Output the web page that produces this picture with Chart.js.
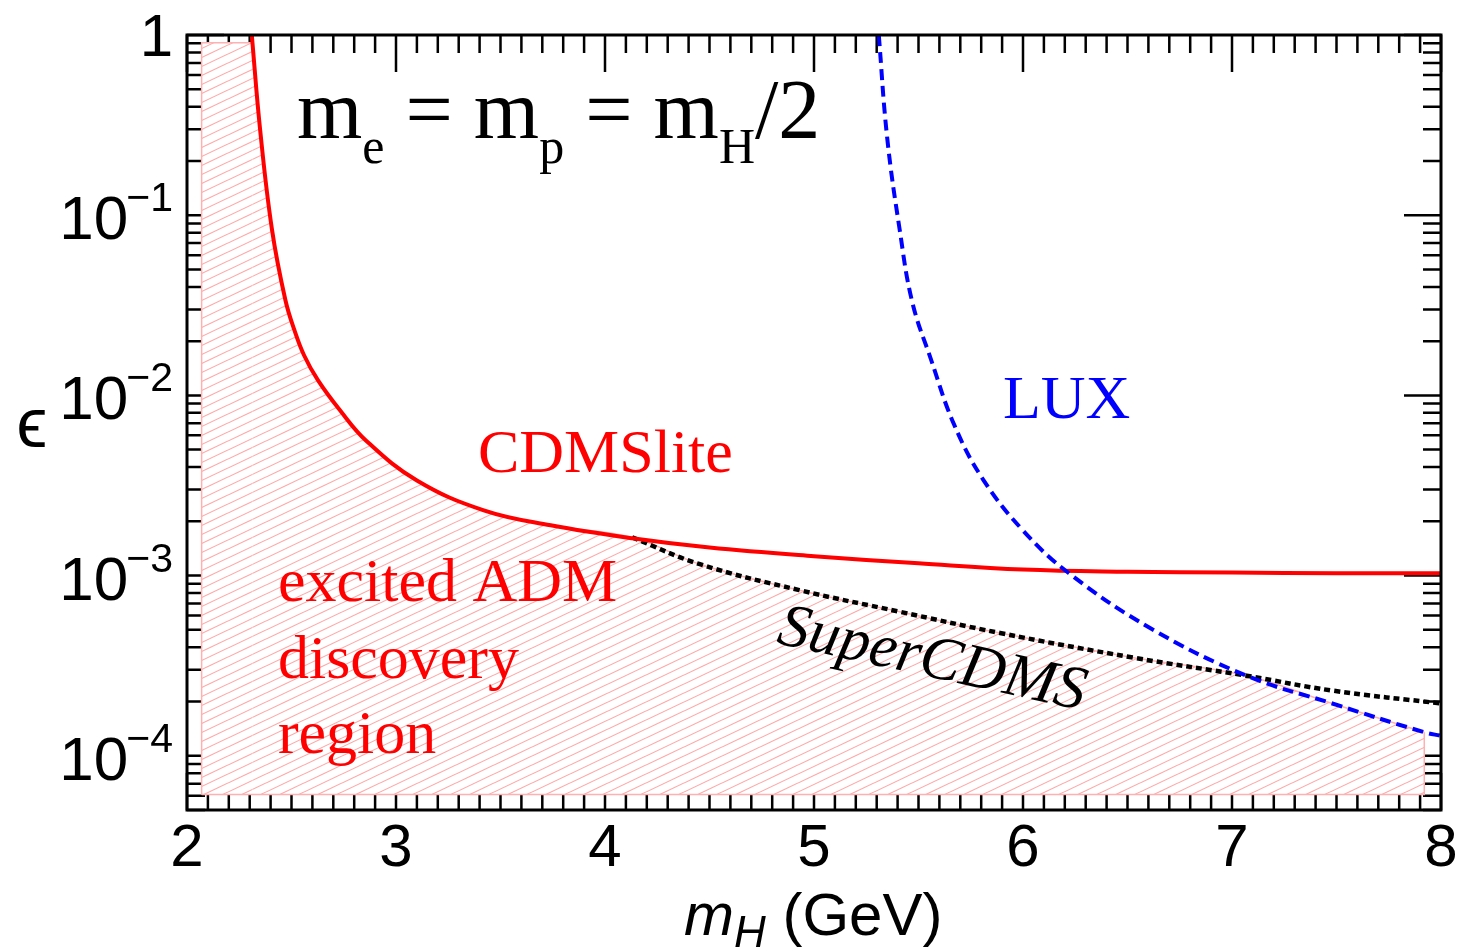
<!DOCTYPE html>
<html>
<head>
<meta charset="utf-8">
<script src="https://cdn.jsdelivr.net/npm/chart.js@4.4.1/dist/chart.umd.min.js"></script>
<style>
  html, body { margin: 0; padding: 0; background: #fff; }
  #wrap { width: 1458px; height: 951px; }
</style>
</head>
<body>
<div id="wrap"><canvas id="plot" width="1458" height="951"></canvas></div>
<script>
// CDMSlite limit
const cdmsMass = [2.31, 2.35, 2.407, 2.471, 2.514, 2.56, 2.627, 2.732, 2.856, 3.10, 3.42, 3.74, 4.13, 4.5, 5.0, 5.5, 6.0, 6.5, 7.0, 7.5, 8.0];
const cdmsEps = [1.0, 0.297, 0.0826, 0.0337, 0.023, 0.0167, 0.0121, 0.00826, 0.00562, 0.00337, 0.0023, 0.0019, 0.00161, 0.00143, 0.00128, 0.00117, 0.00108, 0.00105, 0.00104, 0.00103, 0.00103];
// SuperCDMS projection
const superMass = [4.13, 4.45, 4.93, 5.41, 5.89, 6.53, 7.07, 7.48, 8.0];
const superEps = [0.00163, 0.00116, 0.00083, 0.00063, 0.00048, 0.00035, 0.000278, 0.00023, 0.000195];
// LUX limit
const luxMass = [5.31, 5.35, 5.41, 5.47, 5.56, 5.67, 5.81, 6.0, 6.22, 6.61, 7.07, 7.48, 7.92, 8.0];
const luxEps = [1.0, 0.27, 0.083, 0.033, 0.0158, 0.0069, 0.0034, 0.00178, 0.00103, 0.00051, 0.000278, 0.000195, 0.000135, 0.000129];

// discovery region edges
const regionLeft = 2.07;
const regionRight = 7.92;
const regionTop = 0.906;
const regionBottom = 6.1e-5;
const regionCorner = 2.315;   // where the flat top meets CDMSlite

const xTickLabels = ['2', '3', '4', '5', '6', '7', '8'];
const yTickExps = [0, -1, -2, -3, -4];

const pts = (xs, ys) => xs.map((v, i) => ({ x: v, y: ys[i] }));

// curved upper edge of the hatched region: CDMSlite, then SuperCDMS, then LUX
const regionEdge = [{ x: regionCorner, y: regionTop }]
    .concat(pts(cdmsMass, cdmsEps).filter(p => p.y < regionTop && p.x < superMass[0]))
    .concat(pts(superMass, superEps).filter(p => p.x <= 7.07))
    .concat(pts(luxMass, luxEps).filter(p => p.x > 7.07 && p.x <= regionRight));
// straight pieces of the region outline
const regionLeftPart = [{ x: regionLeft, y: regionBottom }, { x: regionLeft, y: regionTop }, { x: regionCorner, y: regionTop }];
const regionBase = [regionEdge[regionEdge.length - 1], { x: regionRight, y: regionBottom }, { x: regionLeft, y: regionBottom }];

const makeHatch = () => {
    const c = document.createElement('canvas');
    const w = 38, h = 18;
    c.width = w;
    c.height = h;
    const g = c.getContext('2d');
    g.fillStyle = '#ffffff';
    g.fillRect(0, 0, w, h);
    g.strokeStyle = '#ffa8a8';
    g.lineWidth = 1.1;
    for (let k = -2; k <= 2; k++) {
        g.beginPath();
        g.moveTo(0, h + k * h / 2);
        g.lineTo(w, k * h / 2);
        g.stroke();
    }
    return g.createPattern(c, 'repeat');
}
const hatch = makeHatch();

// inward ticks on all four sides, drawn under the hatched fill
const frameTicks = {
    id: 'frameTicks',
    beforeDatasetsDraw(chart) {
        const { ctx, chartArea: a, scales: { x, y } } = chart;
        const minor = 18, major = 37;
        ctx.save();
        ctx.strokeStyle = '#000';
        ctx.lineWidth = 2.5;
        ctx.beginPath();
        for (let v = 20; v <= 80; v++) {
            const px = x.getPixelForValue(v / 10);
            const len = v % 10 === 0 ? major : minor;
            ctx.moveTo(px, a.bottom);
            ctx.lineTo(px, a.bottom - len);
            ctx.moveTo(px, a.top);
            ctx.lineTo(px, a.top + len);
        }
        for (let e = -5; e <= 0; e++) {
            for (let d = 1; d <= 9; d++) {
                const v = d * Math.pow(10, e);
                if (v < y.min * 0.999 || v > y.max * 1.001) continue;
                const py = y.getPixelForValue(v);
                const len = d === 1 ? major : minor;
                ctx.moveTo(a.left, py);
                ctx.lineTo(a.left + len, py);
                ctx.moveTo(a.right, py);
                ctx.lineTo(a.right - len, py);
            }
        }
        ctx.stroke();
        ctx.restore();
    },
    afterDatasetsDraw(chart) {
        const { ctx, chartArea: a } = chart;
        ctx.save();
        ctx.strokeStyle = '#000';
        ctx.lineWidth = 3;
        ctx.strokeRect(a.left, a.top, a.right - a.left, a.bottom - a.top);
        ctx.restore();
    }
}

// writes a run of pieces, each with its own font and baseline shift
const drawRun = (ctx, parts, x, y) => {
    let cx = x;
    parts.forEach(p => {
        ctx.font = p.font;
        ctx.fillText(p.t, cx, y + (p.dy || 0));
        cx += ctx.measureText(p.t).width;
    });
}

const labels = {
    id: 'labels',
    afterDraw(chart) {
        const { ctx, chartArea: a, scales: { x, y } } = chart;
        const sans = 'Liberation Sans, Arial, sans-serif';
        const serif = 'Liberation Serif, Times New Roman, serif';
        ctx.save();
        ctx.fillStyle = '#000';
        ctx.textBaseline = 'alphabetic';

        // x tick labels
        ctx.font = '60px ' + sans;
        ctx.textAlign = 'center';
        xTickLabels.forEach(t => {
            ctx.fillText(t, x.getPixelForValue(Number(t)), a.bottom + 56);
        });

        // y tick labels
        ctx.textAlign = 'right';
        const right = a.left - 14;
        yTickExps.forEach(e => {
            const py = y.getPixelForValue(Math.pow(10, e));
            if (e === 0) {
                ctx.font = '60px ' + sans;
                ctx.fillText('1', right, py + 21);
                return;
            }
            ctx.font = '41px ' + sans;
            const sup = '\u2212' + (-e);
            ctx.fillText(sup, right, py - 4);
            const w = ctx.measureText(sup).width;
            ctx.font = '62px ' + sans;
            ctx.fillText('10', right - w + 2, py + 24);
        });

        // axis titles
        ctx.textAlign = 'center';
        ctx.font = '70px Liberation Sans, DejaVu Sans, sans-serif';
        ctx.fillText('\u03f5', 32, 447);
        ctx.textAlign = 'left';
        drawRun(ctx, [
            { t: 'm', font: 'italic 60px ' + sans },
            { t: 'H', font: 'italic 44px ' + sans, dy: 12 },
            { t: ' (GeV)', font: '60px ' + sans }
        ], 684, 935);

        // curve and region names
        const at = (m, eps) => [x.getPixelForValue(m), y.getPixelForValue(eps)];
        let p = at(2.526, 0.268);
        drawRun(ctx, [
            { t: 'm', font: '84px ' + serif },
            { t: 'e', font: '50px ' + serif, dy: 25 },
            { t: ' = m', font: '84px ' + serif },
            { t: 'p', font: '50px ' + serif, dy: 25 },
            { t: ' = m', font: '84px ' + serif },
            { t: 'H', font: '50px ' + serif, dy: 25 },
            { t: '/2', font: '84px ' + serif }
        ], p[0], p[1]);

        ctx.font = '62px ' + serif;
        ctx.fillStyle = '#ff0000';
        p = at(3.392, 3.78e-3);
        ctx.fillText('CDMSlite', p[0], p[1]);
        p = at(2.435, 7.26e-4);
        ctx.fillText('excited ADM', p[0], p[1]);
        p = at(2.435, 2.71e-4);
        ctx.fillText('discovery', p[0], p[1]);
        p = at(2.435, 1.04e-4);
        ctx.fillText('region', p[0], p[1]);

        ctx.fillStyle = '#0000ff';
        p = at(5.904, 7.45e-3);
        ctx.fillText('LUX', p[0], p[1]);

        ctx.fillStyle = '#000';
        ctx.font = 'italic 62px ' + serif;
        ctx.textAlign = 'center';
        ctx.textBaseline = 'middle';
        p = at(5.565, 3.37e-4);
        ctx.translate(p[0], p[1]);
        ctx.rotate(12.4 * Math.PI / 180);
        ctx.fillText('SuperCDMS', 0, 0);
        ctx.restore();
    }
}

new Chart(document.getElementById('plot'), {
    type: 'line',
    data: {
        datasets: [{
            label: 'CDMSlite',
            data: pts(cdmsMass, cdmsEps),
            borderColor: '#ff0000',
            borderWidth: 4,
            order: 1
        }, {
            label: 'LUX',
            data: pts(luxMass, luxEps),
            borderColor: '#0000ff',
            borderWidth: 4,
            borderDash: [11, 6],
            order: 0
        }, {
            label: 'SuperCDMS',
            data: pts(superMass, superEps),
            borderColor: '#000000',
            borderWidth: 4.5,
            borderDash: [6, 4],
            order: 2
        }, {
            label: 'discovery region',
            data: regionEdge,
            borderColor: '#ffb0b0',
            borderWidth: 1.5,
            backgroundColor: hatch,
            fill: { target: { value: regionBottom } },
            order: 5
        }, {
            label: 'discovery region, left strip',
            data: regionLeftPart,
            tension: 0,
            borderColor: '#ffb0b0',
            borderWidth: 1.5,
            backgroundColor: hatch,
            fill: { target: { value: regionBottom } },
            order: 6
        }, {
            label: 'discovery region, base',
            data: regionBase,
            tension: 0,
            borderColor: '#ffb0b0',
            borderWidth: 1.5,
            fill: false,
            order: 4
        }]
    },
    options: {
        responsive: false,
        animation: false,
        devicePixelRatio: 1,
        layout: { padding: { left: 187, right: 17, top: 35, bottom: 141 } },
        elements: {
            point: { radius: 0, hoverRadius: 0 },
            line: { tension: 0.4, borderCapStyle: 'butt' }
        },
        plugins: {
            legend: { display: false },
            tooltip: { enabled: false }
        },
        scales: {
            x: { type: 'linear', min: 2, max: 8, display: false },
            y: { type: 'logarithmic', min: 5e-5, max: 1, display: false }
        }
    },
    plugins: [frameTicks, labels]
});
</script>
</body>
</html>
